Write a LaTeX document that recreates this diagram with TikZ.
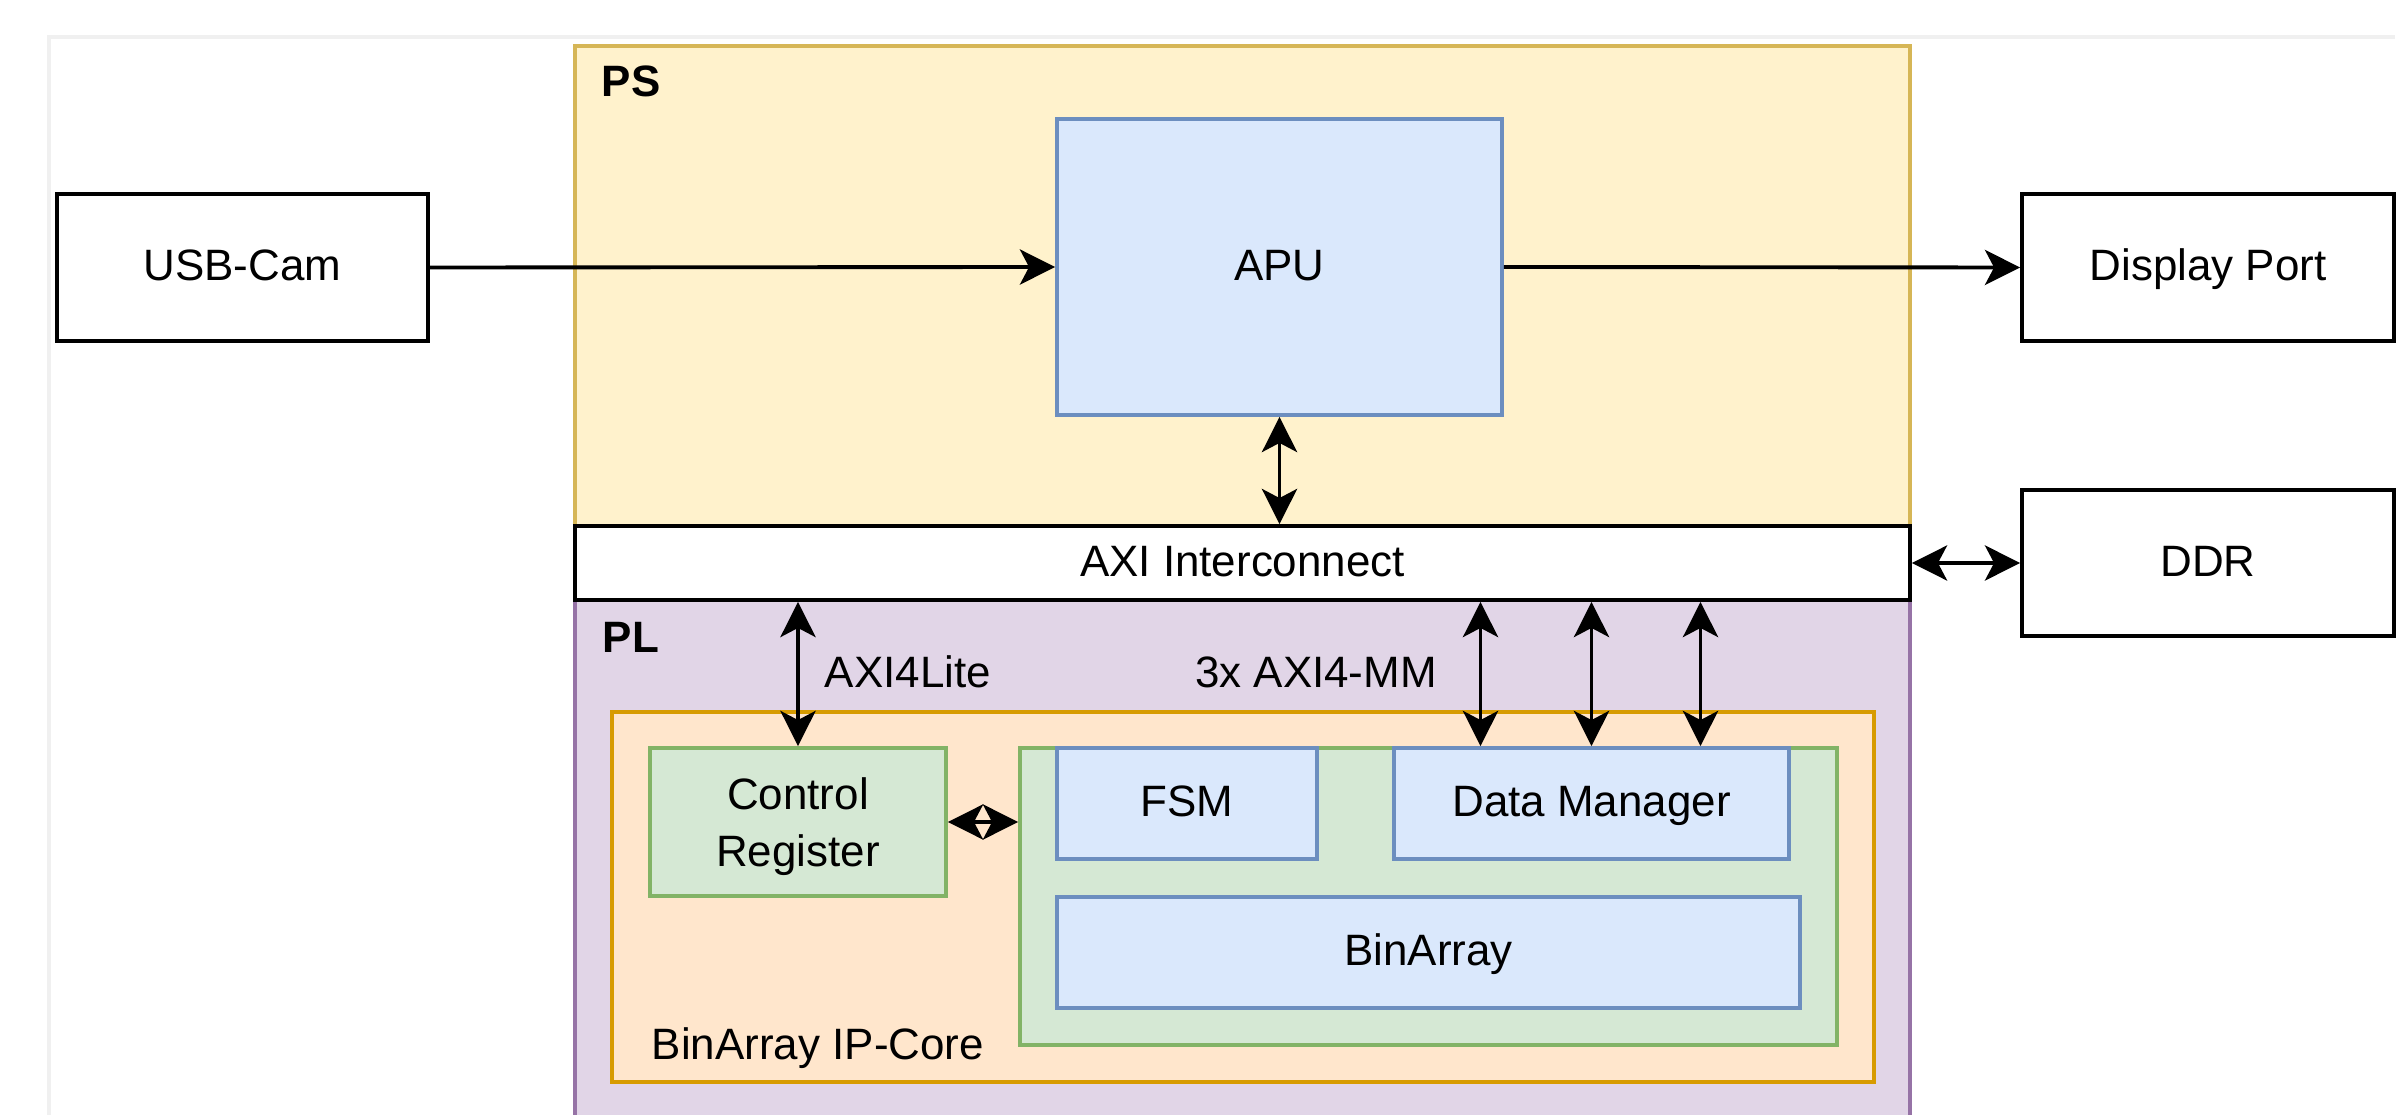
\documentclass[tikz,border=0pt]{standalone}
\usepackage{fontspec}
\setmainfont{Liberation Sans}
\usepackage{xcolor}
\usetikzlibrary{positioning,arrows.meta,calc}
\definecolor{psyellow}{HTML}{FFF2CC}
\definecolor{psborder}{HTML}{D6B656}
\definecolor{plpurple}{HTML}{E1D5E7}
\definecolor{plborder}{HTML}{9673A6}
\definecolor{iporange}{HTML}{FFE6CC}
\definecolor{ipborder}{HTML}{D79B00}
\definecolor{logicgreen}{HTML}{D5E8D4}
\definecolor{greenborder}{HTML}{82B366}
\definecolor{blockblue}{HTML}{DAE8FC}
\definecolor{blueborder}{HTML}{6C8EBF}
\definecolor{framegray}{HTML}{F0F0F0}

\begin{document}
\begin{tikzpicture}[
    font=\fontsize{12.5}{16}\selectfont,
    every node/.style={inner sep=0pt, line width=1.1pt},
    size/.style 2 args={minimum width=#1cm, minimum height=#2cm},
    oneline/.style={text height=9pt, text depth=1.5pt},
    extbox/.style={draw=black, fill=white, oneline},
    blueblock/.style={draw=blueborder, fill=blockblue, oneline},
    conn/.style={line width=1.1pt, -{Stealth[length=10pt, width=10pt, inset=2.6pt]}},
    biconn/.style={line width=1.1pt, {Stealth[length=10pt, width=10pt, inset=2.6pt]}-{Stealth[length=10pt, width=10pt, inset=2.6pt]}}
]
\useasboundingbox (0, 0) rectangle (23.99, -11.15);

% Page frame
\draw[framegray, line width=1.1pt] (0.49, -11.2) -- (0.49, -0.37) -- (23.95, -0.37);

% PS and PL regions
\node[draw=psborder, fill=psyellow, size={13.35}{4.80}] (ps) at (12.425, -2.86) {};
\node[draw=plborder, fill=plpurple, size={13.35}{5.30}] (pl) at (12.425, -8.65) {};
\node[font=\fontsize{12.5}{16}\selectfont\bfseries] (pslabel) at (6.31, -0.81) {PS};
\node[font=\fontsize{12.5}{16}\selectfont\bfseries] (pllabel) at (6.31, -6.37) {PL};

% Interconnect
\node[extbox, size={13.35}{0.74}] (axi) at (12.425, -5.63) {AXI Interconnect};

% Processing system
\node[blueblock, size={4.45}{2.96}] (apu) at (12.795, -2.67) {APU};

% External devices
\node[extbox, size={3.71}{1.47}] (cam) at (2.425, -2.675) {USB-Cam};
\node[extbox, size={3.72}{1.47}] (dp) at (22.08, -2.675) {Display Port};
\node[extbox, size={3.72}{1.46}] (ddr) at (22.08, -5.63) {DDR};

% IP core
\node[draw=ipborder, fill=iporange, size={12.62}{3.70}] (ipcore) at (12.43, -8.97) {};
\node[anchor=base west] (iplabel) at (6.50, -10.59) {BinArray IP-Core};
\node[draw=greenborder, fill=logicgreen, size={2.96}{1.48}, align=center, text depth=0pt] (creg) at (7.98, -8.22) {Control\\Register};
\node[draw=greenborder, fill=logicgreen, size={8.17}{2.97}] (core) at (14.285, -8.965) {};
\node[blueblock, size={2.60}{1.11}] (fsm) at (11.87, -8.035) {FSM};
\node[blueblock, size={3.95}{1.11}] (dm) at (15.915, -8.035) {Data Manager};
\node[blueblock, size={7.43}{1.11}] (binarray) at (14.285, -9.525) {BinArray};

% Bus labels
\node (litelabel) at (9.08, -6.72) {AXI4Lite};
\node (mmlabel) at (13.16, -6.72) {3x AXI4-MM};

% Connections
\draw[conn] (cam.east) -- (apu.west);
\draw[conn] (apu.east) -- (dp.west);
\draw[biconn] (apu.south) -- (apu.south |- axi.north);
\draw[biconn] (axi.east) -- (ddr.west);
\draw[biconn] (creg.north |- axi.south) -- (creg.north);
\draw[biconn] (creg.east) -- (creg.east -| core.west);
\foreach \dx in {-1.11, 0, 1.09} {
    \draw[biconn] ([xshift=\dx cm]dm.north |- axi.south) -- ([xshift=\dx cm]dm.north);
}

\end{tikzpicture}
\end{document}
